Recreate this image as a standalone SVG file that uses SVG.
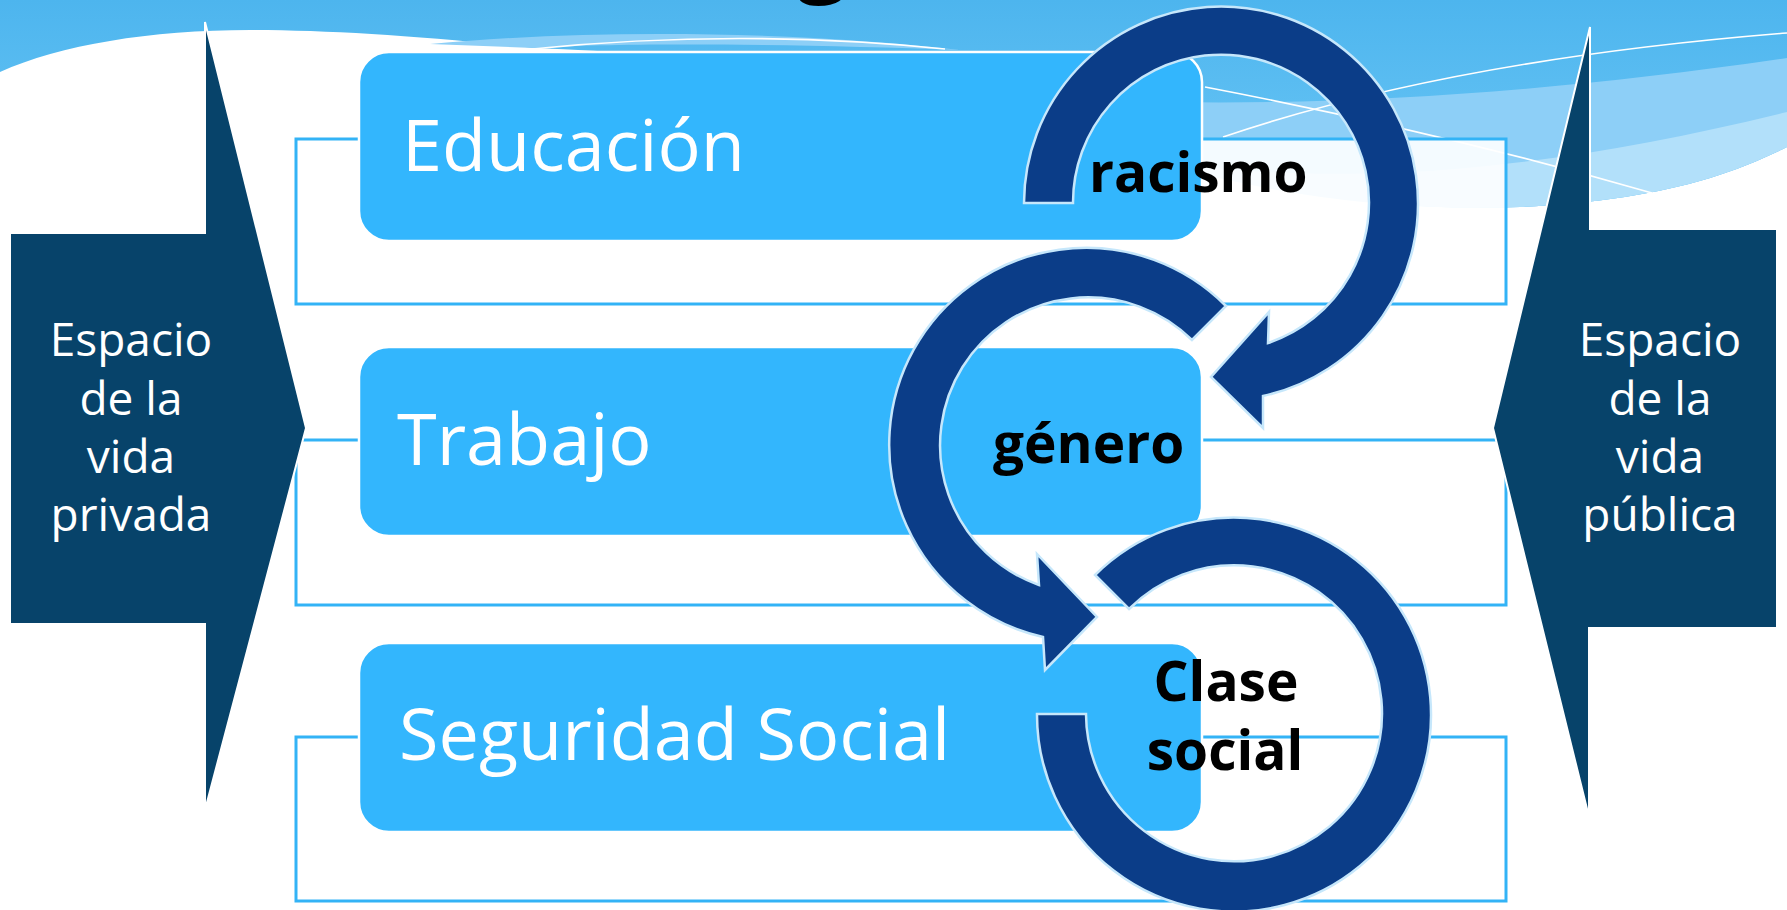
<svg xmlns="http://www.w3.org/2000/svg" width="1787" height="910" viewBox="0 0 1787 910">
<defs>
<linearGradient id="sky" x1="0" y1="0" x2="0" y2="1">
<stop offset="0" stop-color="#4db5ee"/>
<stop offset="1" stop-color="#6cc7f6"/>
</linearGradient>
<style>
.frame{fill:#ffffff;fill-opacity:0.9;stroke:#33b3f6;stroke-width:3}
.box{fill:#33b6fd;stroke:#ffffff;stroke-width:2.5}
.boxtxt{font-family:"Open Sans","Noto Sans","Liberation Sans",sans-serif;font-size:72px;font-weight:400;fill:#ffffff}
.callout{fill:#07436a;stroke:#ffffff;stroke-width:2}
.calltxt{font-family:"Open Sans","Noto Sans","Liberation Sans",sans-serif;font-size:46px;fill:#ffffff;text-anchor:middle}
.arc{fill:#0b3d88;stroke:#c6e7fb;stroke-width:2.5;stroke-linejoin:miter}
.lbl{font-family:"Open Sans","Noto Sans","Liberation Sans",sans-serif;font-size:55px;font-weight:700;fill:#000000}
.wl{fill:none;stroke:#ffffff;stroke-width:1.6}
</style>
</defs>
<g id="background">
<rect x="0" y="0" width="1787" height="910" fill="#ffffff"/>
<path d="M0,0 H1787 V147 C1720,180 1650,200 1520,207 C1380,212 1250,190 1100,140 C950,90 750,55 534,48 C420,36 330,30 250,30 C150,30 60,45 0,72 Z" fill="url(#sky)"/>
<path d="M1000,95 C1250,112 1500,100 1787,58 V147 C1720,180 1650,200 1520,207 C1380,212 1250,190 1100,140 C1060,124 1030,108 1000,95 Z" fill="#8dcff7"/>
<path d="M1150,160 C1350,190 1550,170 1787,112 V147 C1720,180 1650,200 1520,207 C1380,212 1260,192 1150,160 Z" fill="#b2e0fa"/>
<path d="M430,44 C600,28 800,32 960,50 C800,44 620,42 534,48 Z" fill="#8dcff7"/>
<path class="wl" d="M532,49 Q740,28 945,49"/>
<path class="wl" d="M1205,87 Q1440,132 1652,193"/>
<path class="wl" d="M1223,137 Q1450,60 1787,33"/>
<text x="797" y="-16" style="font-family:'Open Sans','Liberation Sans',sans-serif;font-size:90px;font-weight:700;fill:#000">g</text>
</g>
<g id="frames">
<rect class="frame" x="296" y="139" width="1210" height="165"/>
<rect class="frame" x="296" y="440" width="1210" height="165"/>
<rect class="frame" x="296" y="737" width="1210" height="164"/>
</g>
<g id="node-educacion">
<rect class="box" x="359" y="52" width="843" height="189" rx="30" ry="30"/>
<text class="boxtxt" x="402" y="171">Educación</text>
</g>
<g id="node-trabajo">
<rect class="box" x="359" y="347" width="843" height="189" rx="30" ry="30"/>
<text class="boxtxt" x="397" y="465">Trabajo</text>
</g>
<g id="node-seguridad">
<rect class="box" x="359" y="643" width="843" height="189" rx="30" ry="30"/>
<text class="boxtxt" x="399" y="760">Seguridad Social</text>
</g>
<g id="node-privada">
<path class="callout" d="M10,233 H205 V22 L306,428 L205,810 V624 H10 Z"/>
<text class="calltxt" x="131" y="356">Espacio</text>
<text class="calltxt" x="131" y="415">de la</text>
<text class="calltxt" x="131" y="473">vida</text>
<text class="calltxt" x="131" y="531">privada</text>
</g>
<g id="node-publica">
<path class="callout" d="M1777,229 H1590 V27 L1493,428 L1589,817 V628 H1777 Z"/>
<text class="calltxt" x="1660" y="356">Espacio</text>
<text class="calltxt" x="1660" y="415">de la</text>
<text class="calltxt" x="1660" y="473">vida</text>
<text class="calltxt" x="1660" y="531">pública</text>
</g>
<g id="connectors">
<path class="arc" d="M1024,203 A197,197 0 1 1 1263,396 L1263,428 L1211,377 L1269,312 L1268,343 A148,148 0 1 0 1073,203 Z"/>
<path class="arc" d="M1226,306 A197,197 0 1 0 1043,637 L1045,670 L1097,617 L1037,554 L1039,585 A148,148 0 1 1 1192,340 Z"/>
<path class="arc" d="M1037,714 A197,197 0 1 0 1095,575 L1129,609 A148,148 0 1 1 1086,714 Z"/>
</g>
<g id="node-racismo">
<text class="lbl" x="1089" y="192">racismo</text>
</g>
<g id="node-genero">
<text class="lbl" x="993" y="463">género</text>
</g>
<g id="node-clase">
<text class="lbl" x="1226" y="701" text-anchor="middle">Clase</text>
<text class="lbl" x="1225" y="770" text-anchor="middle">social</text>
</g>
</svg>
